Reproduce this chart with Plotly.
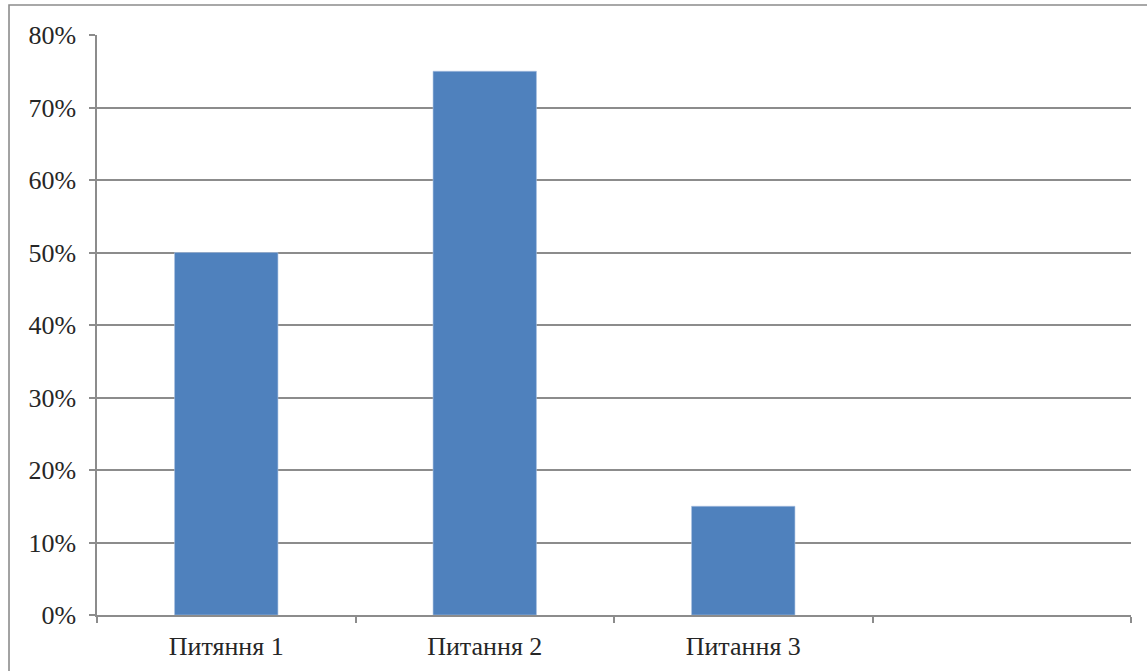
import plotly.graph_objects as go

# Share of answers per question
categories = ["Питяння 1", "Питання 2", "Питання 3", " "]
shares = [0.50, 0.75, 0.15, None]
y_ticks = [0, 0.1, 0.2, 0.3, 0.4, 0.5, 0.6, 0.7, 0.8]
y_tick_labels = ["0%", "10%", "20%", "30%", "40%", "50%", "60%", "70%", "80%"]

SERIF = "Times New Roman, Liberation Serif, DejaVu Serif, serif"

fig = go.Figure(
    go.Bar(
        x=categories,
        y=shares,
        width=0.4,
        marker=dict(color="#4F81BD", line=dict(color="#A9C1E0", width=0.6)),
        hoverinfo="skip",
    )
)

# Frame around the chart area
fig.add_shape(
    type="rect", xref="paper", yref="paper",
    x0=-0.0851, x1=1.03, y0=-0.12, y1=1.0517,
    line=dict(color="#8c8c8c", width=1.6), fillcolor="rgba(0,0,0,0)", layer="below",
)

fig.update_layout(
    width=1147, height=671,
    margin=dict(l=97, r=16, t=35, b=56),
    paper_bgcolor="white", plot_bgcolor="white",
    showlegend=False,
    font=dict(family=SERIF, size=26, color="#262626"),
    xaxis=dict(
        type="category",
        categoryorder="array", categoryarray=categories,
        range=[-0.5, 3.5],
        tickson="boundaries",
        ticks="outside", ticklen=6, tickwidth=1.5, tickcolor="#8c8c8c",
        showline=True, linecolor="#8c8c8c", linewidth=1.5,
        showgrid=False, zeroline=False,
        tickfont=dict(family=SERIF, size=26, color="#262626"),
        ticklabelstandoff=7,
        automargin=False,
        fixedrange=True,
    ),
    yaxis=dict(
        range=[0, 0.8],
        tickvals=y_ticks, ticktext=y_tick_labels,
        ticks="outside", ticklen=6, tickwidth=1.5, tickcolor="#8c8c8c",
        showline=True, linecolor="#8c8c8c", linewidth=1.5,
        showgrid=True, gridcolor="#8c8c8c", gridwidth=1.5,
        zeroline=False,
        tickfont=dict(family=SERIF, size=26, color="#262626"),
        ticklabelstandoff=8,
        automargin=False,
        fixedrange=True,
    ),
)

fig.write_html("out.html")
